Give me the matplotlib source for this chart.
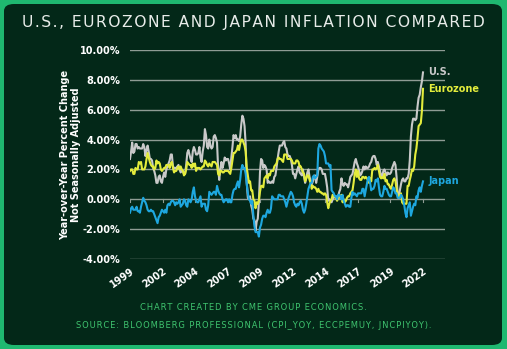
import numpy as np
import matplotlib
matplotlib.use("Agg")
import matplotlib.pyplot as plt
from matplotlib.patches import FancyBboxPatch

# monthly YoY %, Jan 2000 .. Mar 2022
us = [
    2.7, 3.2, 3.8, 3.1, 3.2, 3.7, 3.7, 3.4, 3.5, 3.4, 3.4, 3.4,
    3.7, 3.5, 2.9, 3.3, 3.6, 3.2, 2.7, 2.7, 2.6, 2.1, 1.9, 1.6,
    1.1, 1.1, 1.5, 1.6, 1.2, 1.1, 1.5, 1.8, 1.5, 2.0, 2.2, 2.4,
    2.6, 3.0, 3.0, 2.2, 2.1, 2.1, 2.1, 2.2, 2.3, 2.0, 1.8, 1.9,
    1.9, 1.7, 1.7, 2.3, 3.1, 3.3, 3.0, 2.7, 2.5, 3.2, 3.5, 3.3,
    3.0, 3.0, 3.1, 3.5, 2.8, 2.5, 3.2, 3.6, 4.7, 4.3, 3.5, 3.4,
    4.0, 3.6, 3.4, 3.5, 4.2, 4.3, 4.1, 3.8, 2.1, 1.3, 2.0, 2.5,
    2.1, 2.4, 2.8, 2.6, 2.7, 2.7, 2.4, 2.0, 2.8, 3.5, 4.3, 4.1,
    4.3, 4.0, 4.0, 3.9, 4.2, 5.0, 5.6, 5.4, 4.9, 3.7, 1.1, 0.1,
    0.0, 0.2, -0.4, -0.7, -1.3, -1.4, -2.1, -1.5, -1.3, -0.2, 1.8, 2.7,
    2.6, 2.1, 2.3, 2.2, 2.0, 1.1, 1.2, 1.1, 1.1, 1.2, 1.1, 1.5,
    1.6, 2.1, 2.7, 3.2, 3.6, 3.6, 3.6, 3.8, 3.9, 3.5, 3.4, 3.0,
    2.9, 2.9, 2.7, 2.3, 1.7, 1.7, 1.4, 1.7, 2.0, 2.2, 1.8, 1.7,
    1.6, 2.0, 1.5, 1.1, 1.4, 1.8, 2.0, 1.5, 1.2, 1.0, 1.2, 1.5,
    1.6, 1.1, 1.5, 2.0, 2.1, 2.1, 2.0, 1.7, 1.7, 1.7, 1.3, 0.8,
    -0.1, 0.0, -0.1, -0.2, 0.0, 0.1, 0.2, 0.2, 0.0, 0.2, 0.5, 0.7,
    1.4, 1.0, 0.9, 1.1, 1.0, 1.0, 0.8, 1.1, 1.5, 1.6, 1.7, 2.1,
    2.5, 2.7, 2.4, 2.2, 1.9, 1.6, 1.7, 1.9, 2.2, 2.0, 2.2, 2.1,
    2.1, 2.2, 2.4, 2.5, 2.8, 2.9, 2.9, 2.7, 2.3, 2.5, 2.2, 1.9,
    1.6, 1.5, 1.9, 2.0, 1.8, 1.6, 1.8, 1.7, 1.7, 1.8, 2.1, 2.3,
    2.5, 2.3, 1.5, 0.3, 0.1, 0.6, 1.0, 1.3, 1.4, 1.2, 1.2, 1.4,
    1.4, 1.7, 2.6, 4.2, 5.0, 5.4, 5.4, 5.3, 5.4, 6.2, 6.8, 7.0,
    7.5, 7.9, 8.5,
]
eurozone = [
    1.9, 2.0, 2.0, 1.7, 1.7, 2.1, 2.0, 2.0, 2.5, 2.4, 2.5, 2.0,
    2.0, 2.0, 2.2, 2.7, 3.1, 2.8, 2.5, 2.3, 2.2, 2.2, 2.0, 2.1,
    2.6, 2.4, 2.5, 2.4, 2.0, 1.9, 2.0, 2.1, 2.1, 2.3, 2.3, 2.3,
    2.1, 2.4, 2.5, 2.1, 1.8, 1.9, 1.9, 2.1, 2.2, 2.0, 2.2, 2.0,
    1.9, 1.6, 1.7, 2.0, 2.5, 2.4, 2.3, 2.3, 2.1, 2.4, 2.2, 2.4,
    1.9, 2.1, 2.1, 2.1, 2.0, 2.1, 2.2, 2.2, 2.6, 2.5, 2.3, 2.2,
    2.4, 2.3, 2.2, 2.5, 2.5, 2.5, 2.4, 2.3, 1.7, 1.6, 1.9, 1.9,
    1.8, 1.8, 1.9, 1.9, 1.9, 1.9, 1.8, 1.7, 2.1, 2.6, 3.1, 3.1,
    3.2, 3.3, 3.6, 3.3, 3.7, 4.0, 4.0, 3.8, 3.6, 3.2, 2.1, 1.6,
    1.1, 1.2, 0.6, 0.6, 0.0, -0.1, -0.6, -0.2, -0.3, -0.1, 0.5, 0.9,
    0.9, 0.8, 1.4, 1.5, 1.6, 1.4, 1.7, 1.6, 1.9, 1.9, 1.9, 2.2,
    2.3, 2.4, 2.7, 2.8, 2.7, 2.7, 2.6, 2.5, 3.0, 3.0, 3.0, 2.7,
    2.7, 2.7, 2.7, 2.6, 2.4, 2.4, 2.4, 2.6, 2.6, 2.5, 2.2, 2.2,
    2.0, 1.8, 1.7, 1.2, 1.4, 1.6, 1.6, 1.3, 1.1, 0.7, 0.9, 0.8,
    0.8, 0.7, 0.5, 0.7, 0.5, 0.5, 0.4, 0.4, 0.3, 0.4, 0.3, -0.2,
    -0.6, -0.3, -0.1, 0.0, 0.3, 0.2, 0.2, 0.1, -0.1, 0.1, 0.1, 0.2,
    0.3, -0.2, 0.0, -0.2, -0.1, 0.1, 0.2, 0.2, 0.4, 0.5, 0.6, 1.1,
    1.7, 2.0, 1.5, 1.9, 1.4, 1.3, 1.3, 1.5, 1.5, 1.4, 1.5, 1.4,
    1.3, 1.1, 1.4, 1.2, 2.0, 2.0, 2.1, 2.0, 2.1, 2.3, 1.9, 1.5,
    1.4, 1.5, 1.4, 1.7, 1.2, 1.3, 1.0, 1.0, 0.8, 0.7, 1.0, 1.3,
    1.4, 1.2, 0.7, 0.3, 0.1, 0.3, 0.4, -0.2, -0.3, -0.3, -0.3, -0.3,
    0.9, 0.9, 1.3, 1.6, 2.0, 1.9, 2.2, 3.0, 3.4, 4.1, 4.9, 5.0,
    5.1, 5.9, 7.4,
]
japan = [
    -0.9, -0.6, -0.5, -0.7, -0.7, -0.7, -0.5, -0.8, -0.8, -0.9, -0.5, -0.2,
    0.1, -0.1, -0.2, -0.4, -0.7, -0.8, -0.8, -0.7, -0.8, -0.8, -1.0, -1.2,
    -1.4, -1.6, -1.2, -1.1, -0.9, -0.7, -0.8, -0.9, -0.7, -0.9, -0.4, -0.3,
    -0.4, -0.2, -0.1, -0.1, -0.2, -0.4, -0.2, -0.3, -0.2, 0.0, -0.5, -0.4,
    -0.3, 0.0, -0.1, -0.4, -0.5, 0.0, -0.1, -0.2, 0.0, 0.5, 0.8, 0.2,
    -0.1, -0.2, -0.2, 0.0, 0.2, -0.5, -0.3, -0.3, -0.3, -0.7, -0.8, -0.4,
    0.5, 0.4, 0.3, 0.4, 0.5, 0.5, 0.3, 0.9, 0.6, 0.4, 0.3, 0.3,
    0.0, -0.2, -0.1, 0.0, 0.0, -0.2, 0.0, -0.2, -0.2, 0.3, 0.6, 0.7,
    0.7, 1.0, 1.2, 0.8, 1.3, 2.0, 2.3, 2.1, 2.1, 1.7, 1.0, 0.4,
    0.0, -0.1, -0.3, -0.1, -1.1, -1.8, -2.2, -2.2, -2.2, -2.5, -1.9, -1.7,
    -1.3, -1.1, -1.1, -1.2, -0.9, -0.7, -0.9, -0.9, -0.6, 0.2, 0.1, 0.0,
    0.0, 0.0, 0.0, 0.3, 0.3, 0.2, 0.2, 0.2, 0.0, -0.2, -0.5, -0.2,
    0.1, 0.3, 0.5, 0.4, 0.2, -0.2, -0.4, -0.5, -0.3, -0.4, -0.2, -0.1,
    -0.3, -0.7, -0.9, -0.7, -0.3, 0.2, 0.7, 0.9, 1.1, 1.1, 1.5, 1.6,
    1.4, 1.5, 1.6, 3.4, 3.7, 3.6, 3.4, 3.3, 3.2, 2.9, 2.4, 2.4,
    2.4, 2.2, 2.3, 0.6, 0.5, 0.4, 0.2, 0.2, 0.0, 0.3, 0.3, 0.2,
    0.0, 0.3, -0.1, -0.3, -0.5, -0.4, -0.4, -0.5, -0.5, 0.1, 0.5, 0.3,
    0.4, 0.3, 0.2, 0.4, 0.4, 0.4, 0.4, 0.7, 0.7, 0.2, 0.6, 1.0,
    1.4, 1.5, 1.1, 0.6, 0.7, 0.7, 0.9, 1.3, 1.2, 1.4, 0.8, 0.3,
    0.2, 0.2, 0.5, 0.9, 0.7, 0.7, 0.5, 0.3, 0.2, 0.2, 0.5, 0.8,
    0.7, 0.4, 0.4, 0.1, 0.1, 0.1, 0.3, 0.2, 0.0, -0.4, -0.9, -1.2,
    -0.6, -0.4, -0.2, -1.1, -0.8, -0.5, -0.3, -0.4, 0.2, 0.1, 0.6, 0.8,
    0.5, 0.9, 1.2,
]
year_labels = ["1999", "2002", "2004", "2007", "2009", "2012", "2014", "2017", "2019", "2022"]
y_ticks = [-4, -2, 0, 2, 4, 6, 8, 10]

BG = "#032818"
EDGE = "#1fb870"
GRID = "#8f9c94"
C_US = "#c9c9c9"
C_EU = "#e3ec3c"
C_JP = "#1ea7df"


def spaced(s):
    # widen letter spacing with hair spaces
    return "\u200a".join(s)


fig = plt.figure(figsize=(5.07, 3.49), dpi=100)
fig.patch.set_facecolor(EDGE)
panel = FancyBboxPatch((4 / 507, 4 / 349), 498 / 507, 341 / 349,
                       boxstyle="round,pad=0,rounding_size=0.02",
                       transform=fig.transFigure, facecolor=BG,
                       edgecolor="none", zorder=-5)
fig.patches.append(panel)

ax = fig.add_axes([130 / 507, 1 - 259 / 349, 315 / 507, 209 / 349])
ax.set_facecolor("none")
ax.set_zorder(2)

n = len(us)
x = np.arange(n)
ax.plot(x, us, color=C_US, lw=1.5, zorder=3)
ax.plot(x, eurozone, color=C_EU, lw=1.5, zorder=4)
ax.plot(x, japan, color=C_JP, lw=1.5, zorder=5)

ax.set_ylim(-4, 10)
ax.set_xlim(0, (n - 1) * 315 / 293)
ax.set_yticks(y_ticks)
ax.set_yticklabels(["%.2f%%" % v for v in y_ticks])
ax.yaxis.grid(True, color=GRID, lw=1.0)
ax.set_axisbelow(True)
for s in ax.spines.values():
    s.set_visible(False)
ax.tick_params(axis="y", length=0, pad=7, colors="white", labelsize=7)

ax.set_xticks(np.linspace(0, n - 1, len(year_labels)))
ax.set_xticklabels(year_labels, rotation=35, ha="right", rotation_mode="anchor")
ax.tick_params(axis="x", length=0, pad=5, colors="white", labelsize=7)
for lab in ax.get_xticklabels() + ax.get_yticklabels():
    lab.set_fontweight("bold")
# small ticks on the zero line
for t in np.linspace(0, n - 1, len(year_labels)):
    ax.plot([t, t], [0, -0.18], color=GRID, lw=0.8, zorder=2)

ax.set_ylabel("Year-over-Year Percent Change\nNot Seasonally Adjusted",
              color="white", fontsize=7, fontweight="bold", linespacing=1.1)
ax.yaxis.set_label_coords(-0.155, 0.5)

ax.annotate("U.S.", (n - 1, us[-1]), xytext=(4, 0), textcoords="offset points",
            color=C_US, fontsize=7, fontweight="bold", va="center")
ax.annotate("Eurozone", (n - 1, eurozone[-1]), xytext=(4, 0), textcoords="offset points",
            color=C_EU, fontsize=7, fontweight="bold", va="center")
ax.annotate("Japan", (n - 1, japan[-1]), xytext=(4, 0), textcoords="offset points",
            color=C_JP, fontsize=7, fontweight="bold", va="center")

fig.text(0.5, 1 - 22 / 349, spaced("U.S., EUROZONE AND JAPAN INFLATION COMPARED"),
         ha="center", va="center", color="#e8ece9", fontsize=11.2,
         family="DejaVu Sans")
fig.text(0.5, 1 - 307 / 349, spaced("CHART CREATED BY CME GROUP ECONOMICS."),
         ha="center", va="center", color="#3fc46f", fontsize=6)
fig.text(0.5, 1 - 325 / 349, spaced("SOURCE: BLOOMBERG PROFESSIONAL (CPI_YOY, ECCPEMUY, JNCPIYOY)."),
         ha="center", va="center", color="#3fc46f", fontsize=6)

fig.savefig("out.png", dpi=100, facecolor=fig.get_facecolor())
